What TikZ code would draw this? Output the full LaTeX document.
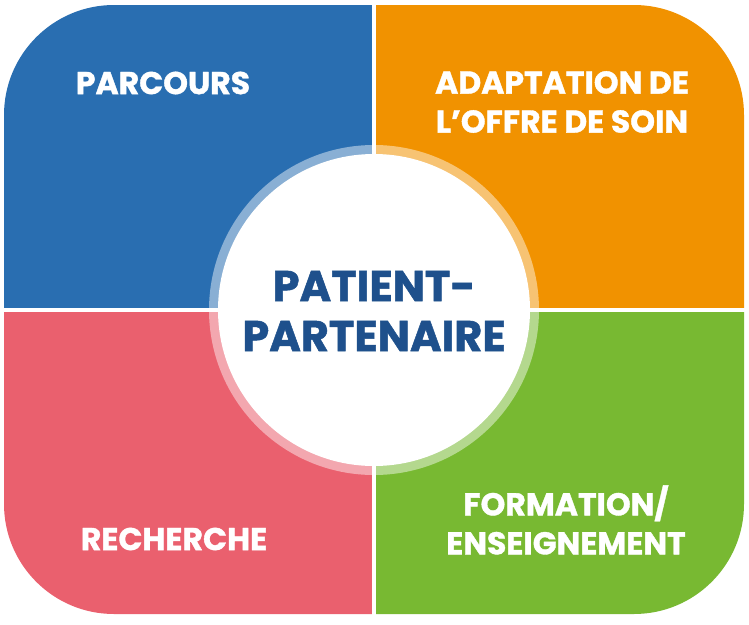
\documentclass[tikz,border=0pt]{standalone}
\usepackage{fontspec}
\setmainfont{Poppins}[BoldFeatures={FakeBold=1.2}]
\definecolor{qblue}{RGB}{41,110,177}
\definecolor{qorange}{RGB}{241,146,0}
\definecolor{qred}{RGB}{234,96,110}
\definecolor{qgreen}{RGB}{120,185,50}
\definecolor{ctrtext}{RGB}{30,80,140}
\tikzset{
  lbl/.style={text=white, font=\bfseries\fontsize{31.5}{39}\selectfont, align=center, inner sep=0pt},
  ctr/.style={text=ctrtext, font=\bfseries\fontsize{43}{50}\selectfont, align=center, inner sep=0pt},
  gap/.style={white, line width=4pt}
}
\begin{document}
\begin{tikzpicture}[x=1pt,y=-1pt]
\useasboundingbox (0,0) rectangle (749,624);
\begin{scope}
\clip[rounded corners=110pt] (4,5) rectangle (744,614);
\fill[qblue] (0,0) rectangle (374,310);
\fill[qorange] (374,0) rectangle (749,310);
\fill[qred] (0,310) rectangle (374,624);
\fill[qgreen] (374,310) rectangle (749,624);
\fill[white, opacity=0.45] (374,310) circle (165pt);
\fill[white] (374,310) circle (156pt);
\end{scope}
\coordinate (ctop) at (374,0);
\coordinate (cbot) at (374,624);
\coordinate (cleft) at (0,310);
\coordinate (cright) at (749,310);
\draw[gap] (ctop) -- (cbot);
\draw[gap] (cleft) -- (cright);
\node[lbl] (parcours) at (163,83) {PARCOURS};
\node[lbl] (adapt) at (562,102) {ADAPTATION DE\\L’OFFRE DE SOIN};
\node[lbl] (recherche) at (174,539) {RECHERCHE};
\node[lbl] (formation) at (566,520) {FORMATION/\\ENSEIGNEMENT};
\node[ctr] (patient) at (374,311) {PATIENT-\\PARTENAIRE};
\end{tikzpicture}
\end{document}
